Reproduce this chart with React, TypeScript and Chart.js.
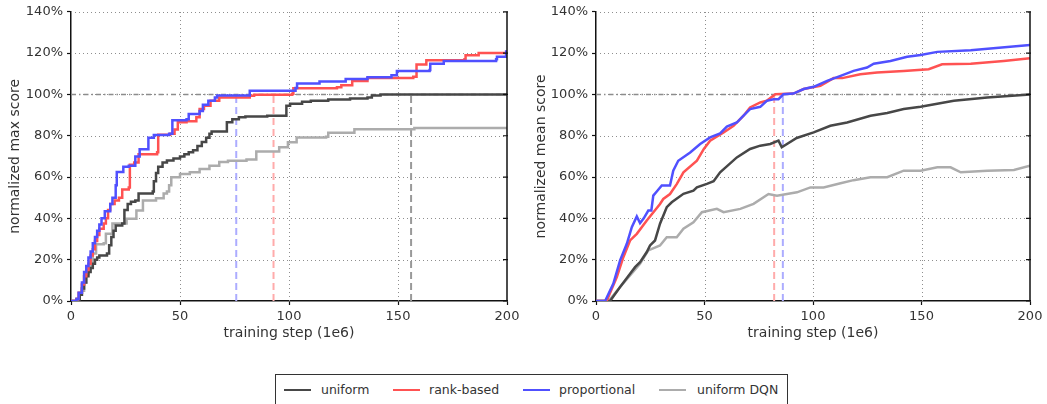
import React, { useEffect, useRef } from 'react';
import { Chart, registerables } from 'chart.js';

Chart.register(...registerables);

const FONT = "'DejaVu Sans', sans-serif";
const TEXT = '#333333';

// ---- axis ticks ----
const X_TICKS = [0, 50, 100, 150, 200];
const Y_TICKS = [0, 20, 40, 60, 80, 100, 120, 140];

// ---- series names ----
const SERIES = ['uniform', 'rank-based', 'proportional', 'uniform DQN'];

// ---- left chart: normalized max score (step curves), [training step, %] ----
const UNIFORM_MAX: [number, number][] = [
  [0, 0], [2.5, 1], [4, 3], [5, 6], [6, 9], [7, 12], [8, 14], [9, 16], [10, 18], [11, 20], [12, 21], [13, 22],
  [16.5, 23], [17.5, 27], [18.5, 31], [19.5, 34], [20.5, 36.5], [23.5, 37.5], [24.5, 44], [26, 47], [27.5, 48],
  [29.5, 48.6], [31, 52], [37.5, 53], [38, 58], [39, 62], [40, 65], [42, 67], [44, 68], [47, 69], [50, 70],
  [52, 71], [54, 72], [56, 73], [58, 75], [60, 77], [62, 79], [63.5, 81], [64.5, 82], [71.5, 86.5], [74, 88],
  [77, 89], [80, 89.3], [90, 89.7], [98.8, 94.5], [100.5, 95.5], [106, 96.5], [110, 97], [118, 97.5],
  [128, 98], [136, 98.5], [138, 99.5], [142, 100], [200, 100],
];
const RANK_MAX: [number, number][] = [
  [0, 0], [2.5, 1], [3.5, 4], [5, 8], [6, 12], [7, 15], [8, 18], [9, 22], [10, 25], [11, 29], [12, 32], [13, 35],
  [15, 37.5], [16, 40], [17, 44], [18, 47], [20, 48.6], [22, 50], [23.5, 54], [26.5, 55], [27, 66], [29, 67],
  [31, 71], [39.5, 72], [40, 80.5], [45.5, 81], [47.5, 83], [49, 86.5], [53, 87], [57.5, 89], [59, 93],
  [61, 94.5], [64, 97], [68, 98.5], [82, 99.3], [84, 99.8], [101.5, 100.3], [102, 103], [122, 103.5],
  [124, 104.5], [129, 106.5], [136, 108], [157, 108.5], [158.5, 114.5], [163, 116.5], [180.5, 117],
  [181, 119], [187, 120], [200, 120],
];
const PROP_MAX: [number, number][] = [
  [0, 0], [2.5, 1], [3.5, 4], [5, 9], [6, 14], [7, 17], [8, 21], [9, 24], [10, 28], [11, 31], [12, 34], [13, 37],
  [14, 40], [15.5, 43.5], [18, 47], [19, 50], [20.5, 56], [21, 62.5], [24, 65], [26.5, 65.5], [29.5, 70],
  [31.5, 73.5], [35.5, 79], [38, 80.3], [45, 81], [46.5, 87.5], [53, 88], [54, 90.5], [59, 92], [60.5, 95],
  [63, 97], [66, 98.5], [67, 99.5], [82, 101.8], [103, 103.1], [103.7, 105.3], [114, 106.3], [126, 107.5],
  [136, 108.3], [147, 109.3], [149.5, 111.4], [164.5, 111.8], [164.8, 114.9], [171, 116.2], [195, 117],
  [195.4, 118.2], [199.6, 121.4],
];
const DQN_MAX: [number, number][] = [
  [0, 0], [3, 1], [4, 3], [5, 5], [6, 9], [7, 13], [8, 16], [9, 19], [10, 23], [11.5, 27.5], [15, 28],
  [16, 32.5], [19, 37.5], [25.5, 39.8], [30, 43.8], [33, 48.6], [39, 49.8], [42.5, 52], [44, 53], [45, 56],
  [46, 59.9], [50, 61.5], [54.5, 62.3], [59, 63.9], [63.5, 65.5], [68, 67.3], [72, 67.9], [80.5, 68.5],
  [85, 72.4], [95.5, 74.4], [99.5, 76.8], [103.5, 79.2], [117, 79.5], [118, 81.5], [130, 83.2],
  [157.5, 83.7], [200, 83.7],
];
// steps at which each curve first matches the uniform baseline (left chart)
const MAX_MARKERS = { proportional: 75.8, rankBased: 92.9, uniform: 156 };

// ---- right chart: normalized mean score, [training step, %] ----
const PROP_MEAN: [number, number][] = [
  [0, 0], [4.2, 0], [8, 8.4], [11.1, 19.7], [14.2, 27.7], [16.5, 35.7], [18.8, 40.9], [20.3, 37.7], [22, 40],
  [24.1, 43.8], [25.5, 43.8], [26.4, 51], [28, 53], [30.3, 55.9], [34.1, 55.9], [35.6, 63.1], [37.9, 67.9],
  [43.4, 71.9], [48, 76], [52.6, 79.2], [57.2, 81.1], [60.3, 84.4], [64.9, 86.4], [68, 89.7], [71, 92.9],
  [75.7, 94], [78.7, 96.9], [81.8, 97.7], [84.1, 97.7], [86.4, 100.1], [91, 100.4], [95.7, 102.6],
  [100.3, 103.7], [106.5, 106.6], [112.7, 109], [118.7, 111.4], [124.9, 113], [128, 114.9], [135.7, 116.2],
  [143.4, 118.2], [149.6, 119.1], [157.3, 120.6], [172.7, 121.4], [200, 123.9],
];
const RANK_MEAN: [number, number][] = [
  [0, 0], [4.9, 0], [9.6, 11.6], [12.6, 21.2], [15.7, 29.3], [18.8, 32.5], [23.4, 39], [29.5, 47], [31, 49.4],
  [34.1, 51.8], [37.2, 56.6], [40.3, 62.3], [46.5, 67.9], [49.7, 73.6], [52.6, 77.6], [58.8, 81.6],
  [63.4, 84.8], [68, 89.7], [71, 93.7], [75.7, 96.1], [78.7, 96.9], [82.6, 100.1], [91, 100.4], [95.7, 102.6],
  [103.4, 104.2], [109.5, 107.9], [113.5, 107.9], [121.8, 109.8], [129.5, 110.6], [141.8, 111.4],
  [153.3, 112.2], [159.5, 114.6], [172.7, 114.9], [187.9, 116.2], [200, 117.5],
];
const UNIFORM_MEAN: [number, number][] = [
  [0, 0], [6.5, 0], [11.1, 6.8], [15.7, 13.2], [18, 16.4], [20.3, 18.8], [23.4, 23.7], [24.9, 26.9],
  [27.2, 29.3], [29.5, 37.4], [32.6, 45.4], [34.9, 47.8], [40.3, 51.9], [44.9, 53.4], [46.5, 55], [51.1, 56.7],
  [54.2, 58], [57.2, 62.3], [64.9, 69.5], [71, 73.6], [75.7, 75.2], [80.3, 76], [84.1, 77.6], [85.6, 74.4],
  [92.5, 78.9], [100.3, 81.6], [108, 84.8], [115.7, 86.4], [126.5, 89.7], [134.2, 91], [141.8, 92.9],
  [149.6, 94], [164.9, 96.9], [180.3, 98.5], [200, 100],
];
const DQN_MEAN: [number, number][] = [
  [0, 0], [5.8, 0], [11.1, 6.8], [15.7, 12.4], [20.3, 18], [24.1, 24.5], [29.5, 26.9], [32.6, 30.9],
  [37.2, 30.9], [40.3, 35], [44.9, 38.1], [48.8, 43], [55.7, 44.6], [58.8, 43], [66.5, 44.6], [72.6, 47],
  [79.5, 51.8], [83.4, 51], [88, 51.8], [92.6, 52.6], [98.8, 55], [104.9, 55], [112.7, 57], [118.7, 58.5],
  [126.5, 59.9], [134.2, 59.9], [141.8, 63.1], [149.6, 63.1], [157.3, 64.7], [163.4, 64.7], [168.1, 62.3],
  [180.3, 63.1], [192.6, 63.4], [200, 65.5],
];
const MEAN_MARKERS = { rankBased: 82.1, proportional: 86.1 };
const BASELINE = 100;

// ---- styles ----
const COLORS = {
  uniform: '#474747',
  rank: '#ff5252',
  prop: '#5050ff',
  dqn: '#acacac',
  rankLight: '#ffabab',
  propLight: '#acacff',
  uniformMarker: '#999999',
  baseline: '#8c8c8c',
  grid: '#8e8e8e',
  spine: '#111111',
};

function toXY(pts: [number, number][]) {
  return pts.map(([x, y]) => ({ x, y }));
}

function curve(label: string, pts: [number, number][], color: string, stepped: boolean) {
  return {
    label,
    data: toXY(pts),
    borderColor: color,
    backgroundColor: color,
    borderWidth: 2.5,
    pointRadius: 0,
    fill: false,
    tension: 0,
    stepped: stepped ? 'before' : false,
  };
}

function vline(x: number, color: string) {
  return {
    label: '',
    data: [{ x, y: 0 }, { x, y: BASELINE }],
    borderColor: color,
    borderWidth: 2,
    borderDash: [7, 4],
    pointRadius: 0,
    fill: false,
  };
}

function baseline() {
  return {
    label: '',
    data: [{ x: X_TICKS[0], y: BASELINE }, { x: X_TICKS[X_TICKS.length - 1], y: BASELINE }],
    borderColor: COLORS.baseline,
    borderWidth: 1.5,
    borderDash: [5, 3, 1.5, 3],
    pointRadius: 0,
    fill: false,
  };
}

// dotted grid drawn under the data
const dottedGrid = {
  id: 'dottedGrid',
  beforeDatasetsDraw(chart: any) {
    const { ctx, chartArea: a, scales } = chart;
    ctx.save();
    ctx.strokeStyle = COLORS.grid;
    ctx.lineWidth = 1;
    ctx.setLineDash([1, 3]);
    ctx.beginPath();
    for (const v of X_TICKS) {
      if (v === X_TICKS[0] || v === X_TICKS[X_TICKS.length - 1]) continue;
      const x = Math.round(scales.x.getPixelForValue(v)) + 0.5;
      ctx.moveTo(x, a.bottom);
      ctx.lineTo(x, a.top);
    }
    for (const v of Y_TICKS) {
      if (v === Y_TICKS[0]) continue;
      const y = Math.round(scales.y.getPixelForValue(v)) + 0.5;
      ctx.moveTo(a.left, y);
      ctx.lineTo(a.right, y);
    }
    ctx.stroke();
    ctx.restore();
  },
  afterDatasetsDraw(chart: any) {
    const { ctx, chartArea: a, scales } = chart;
    ctx.save();
    ctx.strokeStyle = COLORS.spine;
    ctx.lineWidth = 1.5;
    ctx.beginPath();
    ctx.moveTo(a.right, a.top);
    ctx.lineTo(a.right, a.bottom);
    ctx.stroke();
    ctx.lineWidth = 1.2;
    ctx.beginPath();
    for (const v of Y_TICKS) {
      const y = scales.y.getPixelForValue(v);
      ctx.moveTo(a.right - 4, y);
      ctx.lineTo(a.right + 1, y);
    }
    ctx.stroke();
    ctx.restore();
  },
};

function makeConfig(yTitle: string, datasets: any[], padLeft: number, padRight: number, yWidth: number): any {
  const gridCommon = {
    drawOnChartArea: false,
    drawTicks: true,
    tickLength: 4,
    tickColor: COLORS.spine,
    tickWidth: 1.2,
  };
  const borderCommon = { display: true, color: COLORS.spine, width: 1.5 };
  return {
    type: 'line',
    data: { datasets },
    plugins: [dottedGrid],
    options: {
      animation: false,
      responsive: false,
      events: [],
      layout: { padding: { left: padLeft, right: padRight, top: 11, bottom: 8 } },
      plugins: { legend: { display: false }, tooltip: { enabled: false } },
      scales: {
        x: {
          type: 'linear',
          min: X_TICKS[0],
          max: X_TICKS[X_TICKS.length - 1],
          afterBuildTicks: (s: any) => {
            s.ticks = X_TICKS.map((v) => ({ value: v }));
          },
          ticks: { font: { size: 13, family: FONT }, color: TEXT, padding: 4, maxRotation: 0, autoSkip: false, callback: (v: any) => String(v) },
          grid: gridCommon,
          border: borderCommon,
          title: { display: true, text: 'training step (1e6)', font: { size: 14, family: FONT }, color: TEXT, padding: 0 },
          afterFit: (s: any) => {
            s.height = 41;
          },
        },
        y: {
          type: 'linear',
          min: Y_TICKS[0],
          max: Y_TICKS[Y_TICKS.length - 1],
          afterBuildTicks: (s: any) => {
            s.ticks = Y_TICKS.map((v) => ({ value: v }));
          },
          ticks: { font: { size: 13, family: FONT }, color: TEXT, padding: 4, autoSkip: false, callback: (v: any) => v + '%' },
          grid: gridCommon,
          border: borderCommon,
          title: { display: true, text: yTitle, font: { size: 14, family: FONT }, color: TEXT, padding: 0 },
          afterFit: (s: any) => {
            s.width = yWidth;
          },
        },
      },
    },
  };
}

const LEGEND_ITEMS = [
  { name: SERIES[0], color: COLORS.uniform, line: 8, text: 45 },
  { name: SERIES[1], color: COLORS.rank, line: 117, text: 153 },
  { name: SERIES[2], color: COLORS.prop, line: 247, text: 283 },
  { name: SERIES[3], color: COLORS.dqn, line: 383, text: 421 },
];

export default function App() {
  const leftRef = useRef<HTMLCanvasElement>(null);
  const rightRef = useRef<HTMLCanvasElement>(null);

  useEffect(() => {
    Chart.defaults.font.family = FONT;
    const leftSets = [
      curve(SERIES[2], PROP_MAX, COLORS.prop, true),
      curve(SERIES[1], RANK_MAX, COLORS.rank, true),
      curve(SERIES[0], UNIFORM_MAX, COLORS.uniform, true),
      curve(SERIES[3], DQN_MAX, COLORS.dqn, true),
      baseline(),
      vline(MAX_MARKERS.proportional, COLORS.propLight),
      vline(MAX_MARKERS.rankBased, COLORS.rankLight),
      vline(MAX_MARKERS.uniform, COLORS.uniformMarker),
    ];
    const rightSets = [
      curve(SERIES[2], PROP_MEAN, COLORS.prop, false),
      curve(SERIES[1], RANK_MEAN, COLORS.rank, false),
      curve(SERIES[0], UNIFORM_MEAN, COLORS.uniform, false),
      curve(SERIES[3], DQN_MEAN, COLORS.dqn, false),
      baseline(),
      vline(MEAN_MARKERS.rankBased, COLORS.rankLight),
      vline(MEAN_MARKERS.proportional, COLORS.propLight),
    ];
    const c1 = new Chart(leftRef.current as HTMLCanvasElement, makeConfig('normalized max score', leftSets, 7, 17, 64));
    const c2 = new Chart(rightRef.current as HTMLCanvasElement, makeConfig('normalized mean score', rightSets, 13, 17, 63));
    return () => {
      c1.destroy();
      c2.destroy();
    };
  }, []);

  return (
    <div style={{ position: 'fixed', left: 0, top: 0, width: 1047, height: 404, background: '#ffffff', fontFamily: FONT, overflow: 'hidden' }}>
      <canvas ref={leftRef} width={524} height={350} style={{ position: 'absolute', left: 0, top: 0, width: 524, height: 350 }} />
      <canvas ref={rightRef} width={527} height={350} style={{ position: 'absolute', left: 520, top: 0, width: 527, height: 350 }} />
      <div
        style={{
          position: 'absolute',
          left: 275,
          top: 374,
          width: 513,
          height: 40,
          boxSizing: 'border-box',
          border: '1px solid #333333',
          background: '#ffffff',
        }}
      >
        {LEGEND_ITEMS.map((it) => (
          <React.Fragment key={it.name}>
            <div style={{ position: 'absolute', left: it.line, top: 13.5, width: 27, height: 2.5, background: it.color }} />
            <div style={{ position: 'absolute', left: it.text, top: 7, lineHeight: '16px', fontSize: 12.5, color: TEXT, whiteSpace: 'nowrap' }}>
              {it.name}
            </div>
          </React.Fragment>
        ))}
      </div>
    </div>
  );
}
